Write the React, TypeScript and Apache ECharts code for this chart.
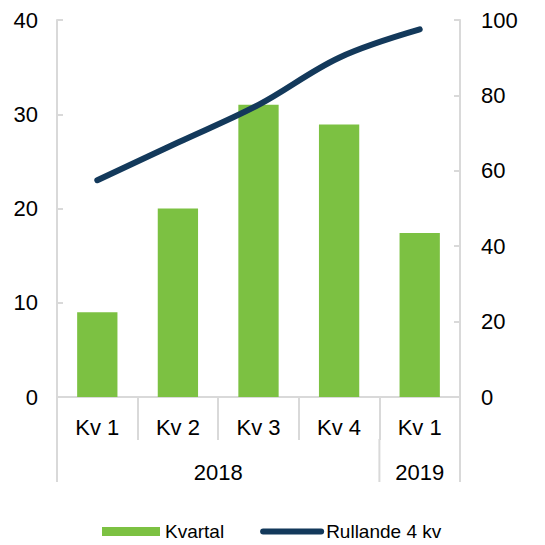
import React, { useEffect, useRef } from "react";
import * as echarts from "echarts";

const quarters = ["Kv 1", "Kv 2", "Kv 3", "Kv 4", "Kv 1"];
const years = ["2018", "2019"];
const yearSpans = [4, 1];
const kvartal = [9, 20, 31, 28.9, 17.4];
const rullande = [57.5, 67.5, 77.5, 90, 97.5];
const leftTicks = [0, 10, 20, 30, 40];
const rightTicks = [0, 20, 40, 60, 80, 100];

const GREEN = "#7CC142";
const NAVY = "#13395B";
const GRID = "#D9D9D9";
const FONT = "Liberation Sans, Arial, sans-serif";

export default function App() {
  const ref = useRef<HTMLDivElement>(null);
  useEffect(() => {
    if (!ref.current) return;
    const chart = echarts.init(ref.current, null, { renderer: "svg" });
    const bounds: number[] = [0];
    const centers: number[] = [];
    let acc = 0;
    yearSpans.forEach((s) => {
      centers.push(acc + s / 2);
      acc += s;
      bounds.push(acc);
    });
    chart.setOption({
      animation: false,
      textStyle: { fontFamily: FONT },
      grid: { left: 57, right: 85, top: 20, bottom: 148, containLabel: false },
      legend: {
        left: 97,
        top: 517,
        itemGap: 36,
        itemWidth: 58,
        itemHeight: 9,
        textStyle: { fontSize: 19, lineHeight: 19, color: "#000", fontFamily: FONT },
        data: [
          { name: "Kvartal", icon: "rect" },
          {
            name: "Rullande 4 kv",
            itemStyle: { opacity: 0 },
            lineStyle: { width: 6, cap: "round", color: NAVY },
          },
        ],
      },
      xAxis: [
        {
          type: "category",
          data: quarters,
          position: "bottom",
          boundaryGap: true,
          axisLine: { show: true, lineStyle: { color: GRID, width: 2 } },
          axisTick: { show: true, length: 43, interval: 0, lineStyle: { color: GRID, width: 2 } },
          axisLabel: { interval: 0, fontSize: 22, color: "#000", margin: 19, fontFamily: FONT },
          splitLine: { show: false },
        },
        {
          type: "value",
          min: 0,
          max: quarters.length,
          position: "bottom",
          offset: 43,
          axisLine: { show: false },
          axisTick: { show: false },
          axisLabel: {
            show: true,
            customValues: centers,
            fontSize: 22,
            color: "#000",
            margin: 21,
            fontFamily: FONT,
            formatter: (v: number) => {
              const i = centers.findIndex((c) => Math.abs(c - v) < 1e-6);
              return i >= 0 ? years[i] : "";
            },
          },
          splitLine: { show: false },
        },
      ],
      yAxis: [
        {
          type: "value",
          min: leftTicks[0],
          max: leftTicks[leftTicks.length - 1],
          interval: 10,
          position: "left",
          axisLine: { show: true, lineStyle: { color: GRID, width: 2 } },
          axisTick: { show: true, inside: true, length: 6, lineStyle: { color: GRID, width: 2 } },
          axisLabel: { fontSize: 22, color: "#000", margin: 19, fontFamily: FONT },
          splitLine: { show: false },
        },
        {
          type: "value",
          min: rightTicks[0],
          max: rightTicks[rightTicks.length - 1],
          interval: 20,
          position: "right",
          axisLine: { show: true, lineStyle: { color: GRID, width: 2 } },
          axisTick: { show: true, inside: true, length: 6, lineStyle: { color: GRID, width: 2 } },
          axisLabel: { fontSize: 22, color: "#000", margin: 21, fontFamily: FONT },
          splitLine: { show: false },
        },
      ],
      series: [
        {
          name: "Kvartal",
          type: "bar",
          xAxisIndex: 0,
          yAxisIndex: 0,
          data: kvartal,
          barWidth: "50%",
          itemStyle: { color: GREEN },
        },
        {
          name: "Rullande 4 kv",
          type: "line",
          xAxisIndex: 0,
          yAxisIndex: 1,
          data: rullande,
          smooth: 0.35,
          symbol: "none",
          lineStyle: { color: NAVY, width: 6, cap: "round" },
          itemStyle: { color: NAVY },
        },
      ],
    });
    const y0 = chart.convertToPixel({ yAxisIndex: 0 }, 0) as number;
    const lines = bounds.map((b) => {
      const x = chart.convertToPixel({ xAxisIndex: 1 }, b) as number;
      return {
        type: "line",
        shape: { x1: x, y1: y0 + 42, x2: x, y2: y0 + 85 },
        style: { stroke: GRID, lineWidth: 2 },
        silent: true,
      };
    });
    chart.setOption({ graphic: lines });
    return () => chart.dispose();
  }, []);
  return (
    <div
      ref={ref}
      style={{ width: 545, height: 545, position: "fixed", left: 0, top: 0, background: "#fff" }}
    />
  );
}
